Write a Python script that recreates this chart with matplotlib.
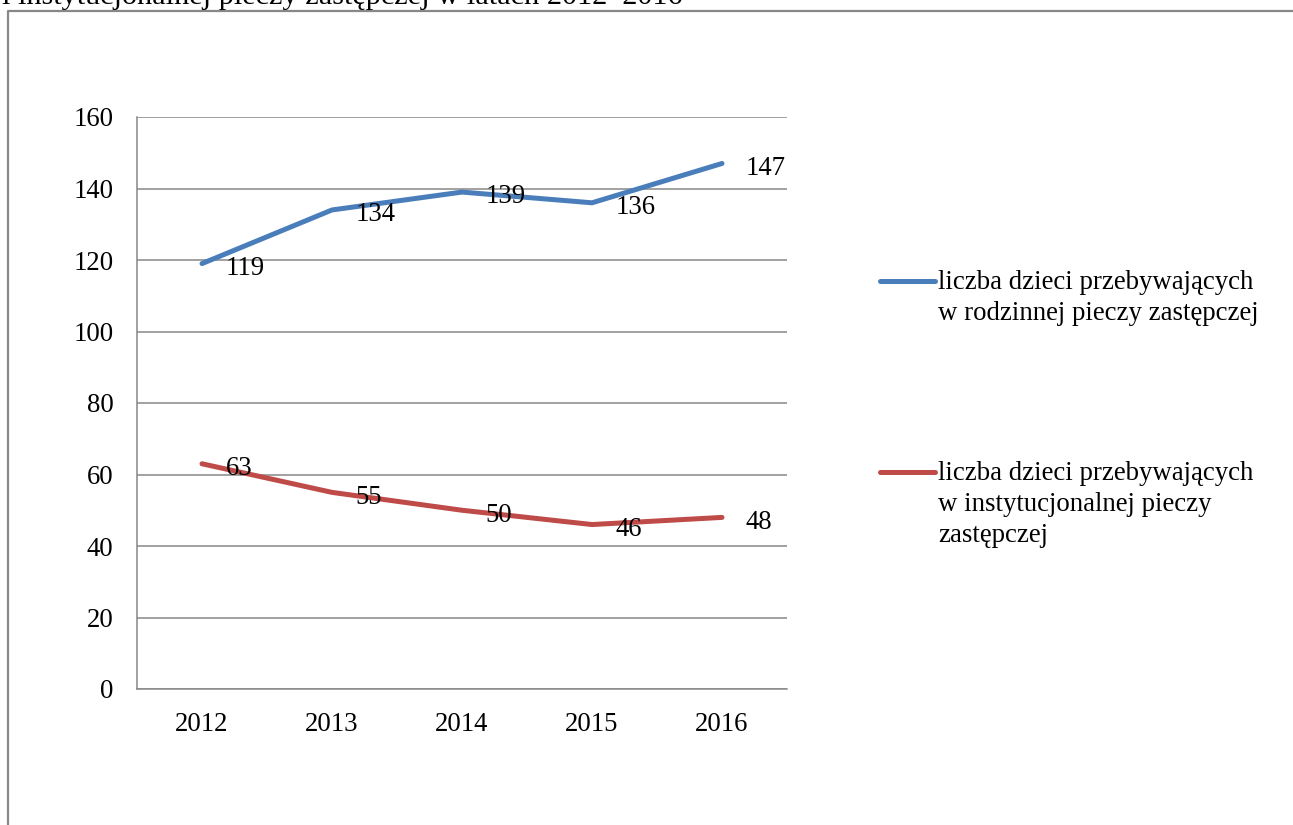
from matplotlib import pyplot as plt
from matplotlib.lines import Line2D

# Data
years=['2012','2013','2014','2015','2016']
rodzinna=[119,134,139,136,147]
instytucjonalna=[63,55,50,46,48]

labels=['liczba dzieci przebywających\nw rodzinnej pieczy zastępczej',
        'liczba dzieci przebywających\nw instytucjonalnej pieczy\nzastępczej']
colors=['#4A7EBB','#BE4B48']

plt.rcParams['font.family']=['Liberation Serif','DejaVu Serif']
fs=19.3

W,H=1293,825
fig=plt.figure(figsize=(W/100,H/100),dpi=100)
ax=fig.add_axes([137/W,1-689/H,650/W,572/H])

x=range(len(years))
for vals,c in zip([rodzinna,instytucjonalna],colors):
    ax.plot(x,vals,color=c,lw=3.6,solid_capstyle='round',zorder=3)
    # Data labels to the right of each point
    for xi,v in zip(x,vals):
        ax.annotate(str(v),(xi,v),xytext=(17,-3.5),textcoords='offset points',
                    ha='left',va='center',fontsize=fs,zorder=4)

ax.set_xlim(-0.5,4.5)
ax.set_ylim(0,160)
ax.set_yticks(range(0,161,20))
ax.set_xticks(list(x))
ax.set_xticklabels(years)
ax.tick_params(axis='both',length=0,labelsize=fs)
ax.tick_params(axis='y',pad=17)
ax.tick_params(axis='x',pad=16.5)
ax.yaxis.grid(True,color='#888888',lw=1.1)
ax.set_axisbelow(True)
for s in ['top','right']:
    ax.spines[s].set_visible(False)
for s in ['left','bottom']:
    ax.spines[s].set_color('#888888')
    ax.spines[s].set_linewidth(1.1)

# Legend drawn by hand, handle beside the first line of each label
for lab,c,yp in zip(labels,colors,[281,472]):
    fig.add_artist(Line2D([880/W,935/W],[1-yp/H,1-yp/H],color=c,lw=3.6,
                          solid_capstyle='round',transform=fig.transFigure))
    fig.text(938/W,1-(yp-11)/H,lab,ha='left',va='top',fontsize=fs,linespacing=1.32)

# Outer frame of the chart area
fig.add_artist(Line2D([8/W,8/W,1.0],[0.0,1-11/H,1-11/H],color='#888888',lw=1.6,
                      transform=fig.transFigure))

# Title cut off at the top of the picture, as in the reference
fig.text(2/W,1-4/H,'i instytucjonalnej pieczy zastępczej w latach 2012–2016',
         ha='left',va='baseline',fontsize=21.8)

fig.savefig('out.png',dpi=100)
